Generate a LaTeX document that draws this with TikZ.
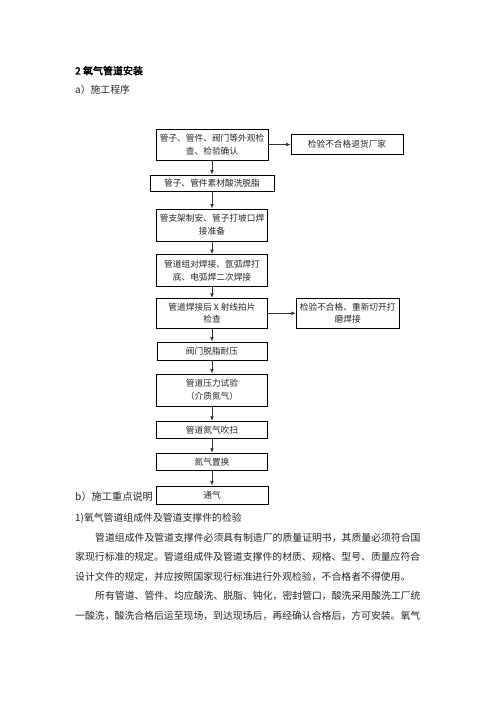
\documentclass[tikz,border=0pt]{standalone}
\usepackage{fontspec}
\setmainfont{Noto Sans CJK SC}
\newfontfamily\hbold[FakeBold=2.5]{Noto Sans CJK SC}
\usetikzlibrary{arrows.meta}
\begin{document}
\begin{tikzpicture}[x=1pt,y=-1pt,
  box/.style={draw=black,line width=0.9pt,inner sep=0pt,align=center,
    font=\fontsize{8.7}{12.7}\selectfont,text=black!85},
  arr/.style={draw=black!80,line width=0.8pt,-{Latex[length=4.5pt,width=3.8pt]}},
  para/.style={anchor=west,inner sep=0pt,font=\fontsize{9.86}{12}\selectfont,text=black!85}]
\useasboundingbox (0,0) rectangle (496,702);
\fill[white] (0,0) rectangle (496,702);

\node[anchor=west,inner sep=0pt,font=\hbold\fontsize{10}{12}\selectfont] (h1) at (75,70.7) {2 氧气管道安装};
\node[para] (h2) at (75,89.5) {a）施工程序};

\node[box,minimum width=112pt,minimum height=31pt] (B1) at (212,144.5) {管子、管件、阀门等外观检\\查、检验确认};
\node[box,minimum width=112pt,minimum height=20pt] (R1) at (347,144.5) {检验不合格退货厂家};
\node[box,minimum width=124pt,minimum height=16pt] (B2) at (212,183) {管子、管件素材酸洗脱脂};
\node[box,minimum width=111pt,minimum height=32pt] (B3) at (212,225) {管支架制安、管子打坡口焊\\接准备};
\node[box,minimum width=111pt,minimum height=32pt] (B4) at (212,270.5) {管道组对焊接、氩弧焊打\\底、电弧焊二次焊接};
\node[box,minimum width=111pt,minimum height=30pt] (B5) at (212,313.3) {管道焊接后 X 射线拍片\\检查};
\node[box,minimum width=103pt,minimum height=30.6pt] (R2) at (347.7,313.3) {检验不合格、重新切开打\\磨焊接};
\node[box,minimum width=110pt,minimum height=18pt] (B6) at (212,351) {阀门脱脂耐压};
\node[box,minimum width=111pt,minimum height=32pt] (B7) at (212,390) {管道压力试验\\（介质氮气）};
\node[box,minimum width=111pt,minimum height=17pt] (B8) at (212,429.8) {管道氮气吹扫};
\node[box,minimum width=111pt,minimum height=17pt] (B9) at (212,461.7) {氮气置换};
\node[box,minimum width=112pt,minimum height=18pt] (B10) at (212,495) {通气};

\draw[arr] (B1) -- (B2);
\draw[arr] (B2) -- (B3);
\draw[arr] (B3) -- (B4);
\draw[arr] (B4) -- (B5);
\draw[arr] (B5) -- (B6);
\draw[arr] (B6) -- (B7);
\draw[arr] (B7) -- (B8);
\draw[arr] (B8) -- (B9);
\draw[arr] (B9) -- (B10);
\draw[arr] (B1) -- (R1);
\draw[arr] (B5) -- (R2);

\node[para,font=\fontsize{10.2}{12}\selectfont] (lb) at (75,496.5) {b）施工重点说明};
\node[para] (p1) at (75,518) {1)氧气管道组成件及管道支撑件的检验};
\node[para] (p2) at (95,537.5) {管道组成件及管道支撑件必须具有制造厂的质量证明书，其质量必须符合国};
\node[para] (p3) at (75,557) {家现行标准的规定。管道组成件及管道支撑件的材质、规格、型号、质量应符合};
\node[para] (p4) at (75,576.5) {设计文件的规定，并应按照国家现行标准进行外观检验，不合格者不得使用。};
\node[para] (p5) at (95,596) {所有管道、管件、均应酸洗、脱脂、钝化，密封管口，酸洗采用酸洗工厂统};
\node[para] (p6) at (75,615.5) {一酸洗，酸洗合格后运至现场，到达现场后，再经确认合格后，方可安装。氧气};
\end{tikzpicture}
\end{document}
